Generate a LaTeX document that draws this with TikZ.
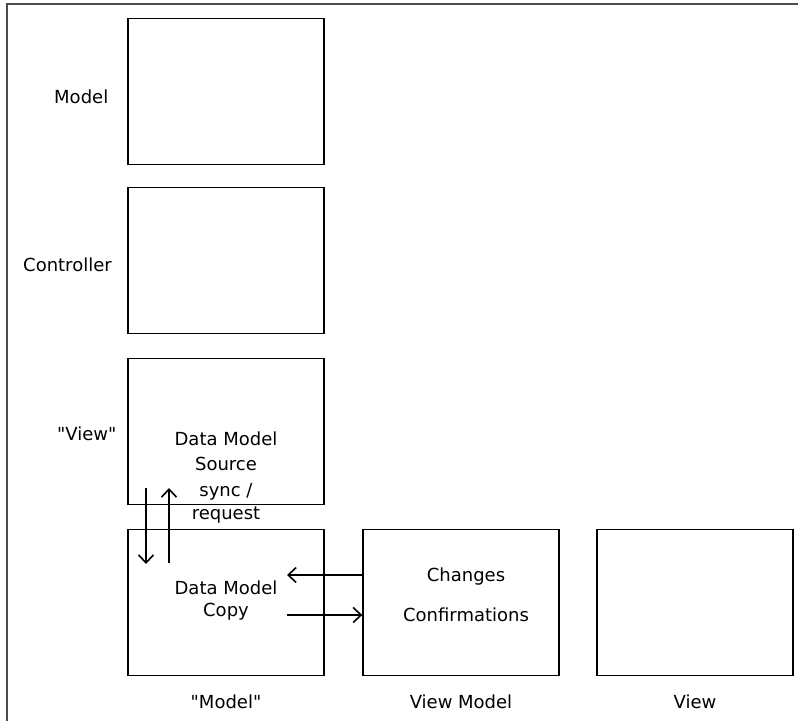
\documentclass[tikz,border=0pt]{standalone}
\usepackage{fontspec}
\newfontfamily\diagfont{DejaVu Sans}
\usetikzlibrary{arrows.meta}
\begin{document}
\begin{tikzpicture}[x=1pt,y=-1pt,
  box/.style={draw=black,line width=1.4pt,minimum width=196pt,minimum height=146pt,inner sep=0pt},
  lbl/.style={font=\diagfont\fontsize{18}{22}\selectfont,inner sep=0pt,align=center},
  arr/.style={line width=1.4pt,-{Straight Barb[length=8pt,width=15pt,line width=1.6pt]}}]
\useasboundingbox (0,0) rectangle (798,721);
\draw[line width=2pt,black!70] (7,721) -- (7,4) -- (798,4);
\node[box] (model) at (226,91.5) {};
\node[box] (ctrl) at (226,260.5) {};
\node[box] (view) at (226,431.5) {};
\node[box] (copy) at (226,602.5) {};
\node[box] (vm) at (461,602.5) {};
\node[box] (v) at (695,602.5) {};
\node[lbl,anchor=west] (lmodel) at (54,97) {Model};
\node[lbl,anchor=west] (lctrl) at (23,265) {Controller};
\node[lbl,anchor=west] (lview) at (57,434) {"View"};
\node[lbl] (src1) at (226,439) {Data Model};
\node[lbl] (src2) at (226,464) {Source};
\node[lbl] (sync1) at (226,492) {sync /};
\node[lbl] (sync2) at (226,515) {request};
\node[lbl] (cp1) at (226,588) {Data Model};
\node[lbl] (cp2) at (226,612) {Copy};
\node[lbl] (chg) at (466,577) {Changes};
\node[lbl] (conf) at (466,615) {Confirmations};
\node[lbl] (bmodel) at (226,702) {"Model"};
\node[lbl] (bvm) at (461,702) {View Model};
\node[lbl] (bv) at (695,702) {View};
\coordinate (d1) at (146,488);
\coordinate (d2) at (146,564);
\coordinate (u1) at (169,563);
\coordinate (u2) at (169,488);
\coordinate (l2) at (287,575);
\coordinate (r1) at (287,615);
\draw[arr] (d1) -- (d2);
\draw[arr] (u1) -- (u2);
\draw[arr] (vm.west |- l2) -- (l2);
\draw[arr] (r1) -- (vm.west |- r1);
\end{tikzpicture}
\end{document}
